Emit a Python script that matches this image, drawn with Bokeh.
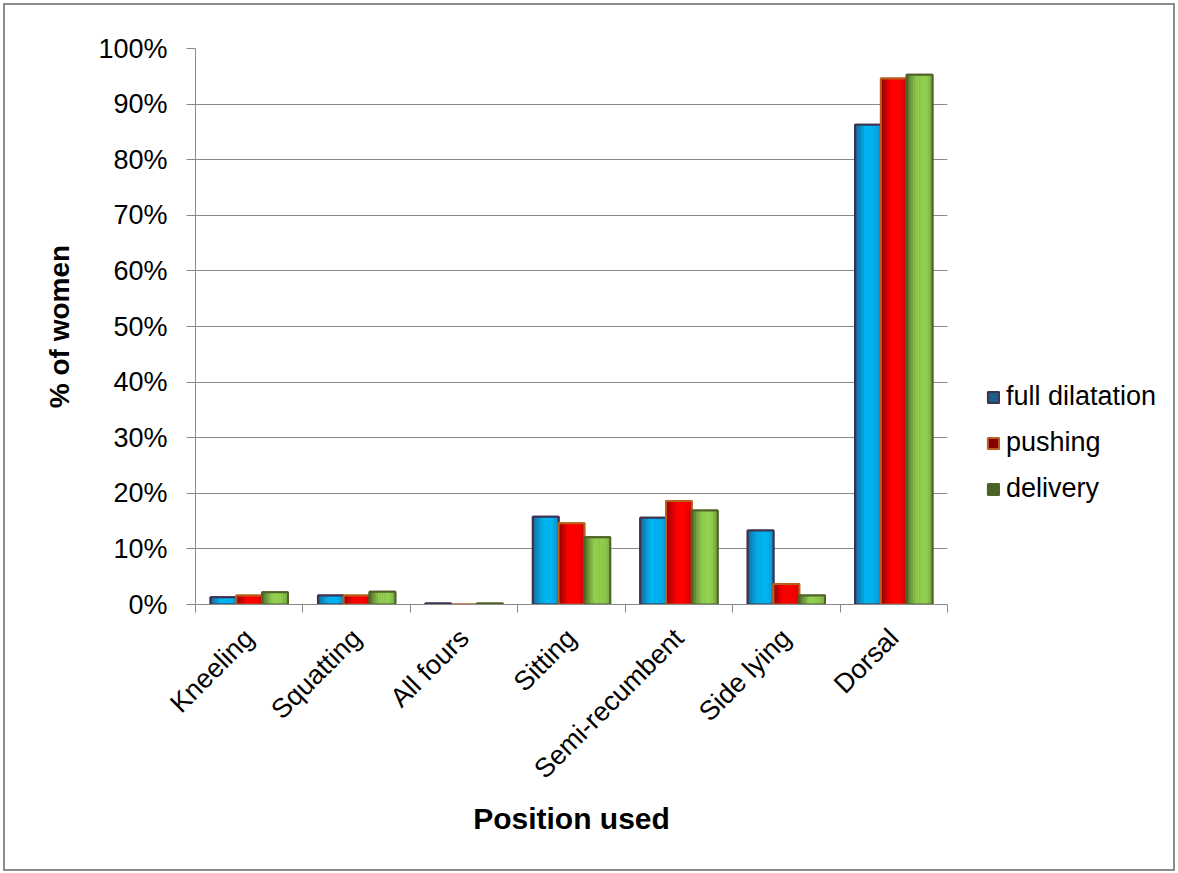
import math
from bokeh.plotting import figure
from bokeh.layouts import row
from bokeh.models import (Range1d, LinearAxis, FixedTicker, NumeralTickFormatter, Legend,
                          LegendItem, ColumnDataSource, Grid)
from bokeh.embed import file_html
from bokeh.resources import INLINE

categories = ["Kneeling", "Squatting", "All fours", "Sitting", "Semi-recumbent", "Side lying", "Dorsal"]
full_dilatation = [1.3, 1.6, 0.2, 15.8, 15.6, 13.3, 86.3]
pushing = [1.6, 1.6, 0.0, 14.6, 18.6, 3.7, 94.6]
delivery = [2.2, 2.3, 0.2, 12.1, 16.9, 1.6, 95.3]
series_names = ["full dilatation", "pushing", "delivery"]
y_ticks = [i / 10 for i in range(11)]

FONT = "Liberation Sans"
GREY = "#8a8a8a"

ncat = len(categories)
centers = [i + 0.5 for i in range(ncat)]
bounds = list(range(ncat + 1))
src = ColumnDataSource(dict(
    xc=centers,
    fd=[v / 100 for v in full_dilatation],
    pu=[v / 100 for v in pushing],
    de=[v / 100 for v in delivery],
))

H = 864
p = figure(x_range=Range1d(0, ncat), y_range=Range1d(0, 1),
           width=952, height=H, output_backend="svg", toolbar_location=None,
           x_axis_location=None, y_axis_location=None,
           min_border_left=190, min_border_right=10, min_border_top=43, min_border_bottom=265)
p.outline_line_color = None
for g in list(p.grid):
    g.visible = False

# y axis
yaxis = LinearAxis(ticker=FixedTicker(ticks=y_ticks), formatter=NumeralTickFormatter(format="0%"),
                   axis_label="% of women")
yaxis.axis_line_color = GREY
yaxis.major_tick_line_color = GREY
yaxis.major_tick_out = 9
yaxis.major_tick_in = 0
yaxis.minor_tick_line_color = None
yaxis.major_label_standoff = 19
yaxis.major_label_text_font = FONT
yaxis.major_label_text_font_size = "27px"
yaxis.major_label_text_color = "#000000"
yaxis.axis_label_text_font = FONT
yaxis.axis_label_text_font_size = "28px"
yaxis.axis_label_text_font_style = "bold"
yaxis.axis_label_text_color = "#000000"
yaxis.axis_label_standoff = 20
p.add_layout(yaxis, "left")
p.add_layout(Grid(dimension=1, ticker=yaxis.ticker, grid_line_color=GREY, grid_line_width=1))

# category axis: labels at centers, tick marks at boundaries (minor ticks)
xaxis = LinearAxis(ticker=FixedTicker(ticks=centers, minor_ticks=bounds), axis_label="Position used",
                   major_label_overrides={c: n for c, n in zip(centers, categories)})
xaxis.axis_line_color = GREY
xaxis.major_tick_line_color = None
xaxis.major_tick_out = 0
xaxis.major_tick_in = 0
xaxis.minor_tick_line_color = GREY
xaxis.minor_tick_out = 8
xaxis.minor_tick_in = 0
xaxis.major_label_orientation = math.pi / 4
xaxis.major_label_standoff = 21
xaxis.major_label_text_font = FONT
xaxis.major_label_text_font_size = "27px"
xaxis.major_label_text_color = "#000000"
xaxis.axis_label_text_font = FONT
xaxis.axis_label_text_font_size = "30px"
xaxis.axis_label_text_font_style = "bold"
xaxis.axis_label_text_color = "#000000"
xaxis.axis_label_standoff = 4
p.add_layout(xaxis, "below")

styles = [
    ("fd", "#1a5f8a", "#00b4f2", "#3f3151"),
    ("pu", "#860000", "#ff0000", "#b8601c"),
    ("de", "#4a6126", "#92d050", "#4f6228"),
]
BW = 0.24
offsets = [-BW, 0.0, BW]
N = 12


def hexrgb(h):
    return tuple(int(h[i:i + 2], 16) for i in (1, 3, 5))


def mix(a, b, f):
    ca, cb = hexrgb(a), hexrgb(b)
    return "#%02x%02x%02x" % tuple(int(round(x + (y - x) * f)) for x, y in zip(ca, cb))


def shade(t):
    if t < 0.4:
        return (t / 0.4) ** 0.8
    if t < 0.75:
        return 1.0
    return 1.0 - (t - 0.75) / 0.25 * 0.35


# legend-only figure on the right (its swatch renderers are hidden; only the legend shows)
lf = figure(x_range=Range1d(0, 1), y_range=Range1d(0, 1), width=216, height=H,
            output_backend="svg", toolbar_location=None, x_axis_location=None, y_axis_location=None,
            min_border=0)
lf.outline_line_color = None
for g in list(lf.grid):
    g.visible = False

legend_items = []
for (col, dark, bright, edge), off, name in zip(styles, offsets, series_names):
    xs = [c + off for c in centers]
    p.vbar(x=xs, top=src.data[col], width=BW, bottom=0,
           fill_color=dark, line_color=edge, line_width=2)
    for k in range(N):
        t = (k + 0.5) / N
        c = mix(dark, bright, shade(t))
        so = off - BW / 2 + (k + 0.5) * BW / N
        p.vbar(x=[cc + so for cc in centers], top=src.data[col], width=BW / N * 1.15, bottom=0,
               fill_color=c, line_color=None)
    p.vbar(x=xs, top=src.data[col], width=BW, bottom=0,
           fill_color=None, line_color=edge, line_width=2)
    sw = lf.vbar(x=xs, top=src.data[col], width=BW, bottom=0,
                 fill_color=dark, line_color=edge, line_width=2, visible=False)
    legend_items.append(LegendItem(label=name, renderers=[sw]))

legend = Legend(items=legend_items, location=(29, 100))
legend.margin = 0
legend.padding = 0
legend.border_line_color = None
legend.background_fill_alpha = 0
legend.glyph_width = 14
legend.glyph_height = 14
legend.label_standoff = 6
legend.label_height = 26
legend.spacing = 15
legend.label_text_font = FONT
legend.label_text_font_size = "27px"
legend.label_text_color = "#000000"
lf.add_layout(legend, "center")

layout = row(p, lf, styles={"border": "2px solid #8c8c8c", "margin-left": "3px", "margin-top": "3px"})
open("out.html", "w").write(file_html(layout, INLINE))
